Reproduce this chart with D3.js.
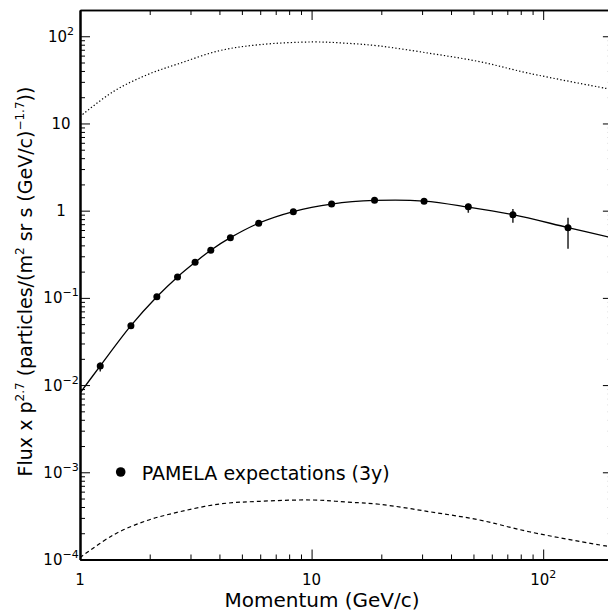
<!DOCTYPE html>
<html>
<head>
  <script src="https://d3js.org/d3.v7.min.js"></script>
  <style>
    body { margin: 0; background: #fff; }
    text { font-family: "DejaVu Sans", sans-serif; fill: #000; }
  </style>
</head>
<body>
  <svg width="608" height="612"></svg>
<script>

// PAMELA expected points (momentum GeV/c, flux x p^2.7)
const pointP    = [1.223, 1.659, 2.147, 2.637, 3.14, 3.67, 4.46, 5.91, 8.34, 12.2, 18.7, 30.6, 47.5, 74.0, 128];
const pointFlux = [0.0166, 0.048, 0.103, 0.174, 0.256, 0.352, 0.49, 0.718, 0.975, 1.19, 1.316, 1.28, 1.11, 0.899, 0.638];
const errLow    = [0.0143, null, null, null, null, null, null, null, null, null, null, null, 0.944, 0.728, 0.367];
const errHigh   = [0.0181, null, null, null, null, null, null, null, null, null, null, null, 1.197, 1.046, 0.831];

// solid curve
const solidP    = [1, 1.223, 1.659, 2.147, 2.637, 3.14, 3.67, 4.46, 5.91, 8.34, 12.2, 18.7, 30.6, 47.5, 74, 128, 200];
const solidFlux = [0.0081, 0.0166, 0.048, 0.103, 0.174, 0.256, 0.352, 0.49, 0.718, 0.975, 1.19, 1.31, 1.29, 1.1, 0.9, 0.64, 0.485];

// dotted curve (top)
const dotP    = [1, 1.392, 1.94, 2.70, 4.01, 5.97, 10.1, 14.1, 19.6, 32.3, 53.0, 87.0, 186, 200];
const dotFlux = [12.0, 23.2, 36.0, 49.0, 68.4, 80.1, 86.0, 83.2, 77.4, 63.8, 51.2, 37.6, 25.3, 24.4];

// dashed curve (bottom)
const dashP    = [1, 1.392, 1.94, 2.70, 4.01, 5.97, 10.1, 14.1, 19.6, 32.3, 53.0, 87.0, 186, 200];
const dashFlux = [1.05e-4, 1.91e-4, 2.79e-4, 3.53e-4, 4.33e-4, 4.65e-4, 4.81e-4, 4.56e-4, 4.30e-4, 3.53e-4, 2.84e-4, 2.08e-4, 1.43e-4, 1.39e-4];

// tick labels
const xTickVals = [1, 10, 100];
const xTickBase = ['1', '10', '10'];
const xTickExp  = ['', '', '2'];
const yTickVals = [1e-4, 1e-3, 1e-2, 1e-1, 1, 10, 100];
const yTickBase = ['10', '10', '10', '10', '1', '10', '10'];
const yTickExp  = ['\u22124', '\u22123', '\u22122', '\u22121', '', '', '2'];

const L = 80, R = 612.9, T = 10, B = 559.5;

let svg = d3.select('svg');

let x = d3.scaleLog().domain([1, 200]).range([L, R]);
let y = d3.scaleLog().domain([1e-4, 200]).range([B, T]);

// minor tick values
let xMinor = [], yMinor = [];
for (let d = 1; d <= 100; d *= 10)
  for (let k = 2; k <= 9; k++) if (d * k <= 200) xMinor.push(d * k);
for (let d = 1e-4; d <= 100; d *= 10)
  for (let k = 2; k <= 9; k++) if (d * k <= 200) yMinor.push(d * k);

svg.append('clipPath').attr('id', 'plot')
  .append('rect').attr('x', L).attr('y', T).attr('width', R - L).attr('height', B - T);

let line = (xs, ys) => d3.line()
  .x((d, i) => x(xs[i]))
  .y((d, i) => y(ys[i]))
  .curve(d3.curveCatmullRom)(xs);

let g = svg.append('g').attr('clip-path', 'url(#plot)');

g.append('path').attr('d', line(dotP, dotFlux))
  .style('fill', 'none').style('stroke', '#000').style('stroke-width', 1.2)
  .style('stroke-dasharray', '1.3,2.2');

g.append('path').attr('d', line(dashP, dashFlux))
  .style('fill', 'none').style('stroke', '#000').style('stroke-width', 1.2)
  .style('stroke-dasharray', '4,3');

g.append('path').attr('d', line(solidP, solidFlux))
  .style('fill', 'none').style('stroke', '#000').style('stroke-width', 1.3);

pointP.forEach((p, i) => {
  if (errLow[i] !== null) {
    g.append('line')
      .attr('x1', x(p)).attr('x2', x(p))
      .attr('y1', y(errLow[i])).attr('y2', y(errHigh[i]))
      .style('stroke', '#222').style('stroke-width', 1.5);
  }
  g.append('circle')
    .attr('cx', x(p)).attr('cy', y(pointFlux[i])).attr('r', 3.5)
    .style('fill', '#000');
});

// axes: major and minor ticks, inward
let axisStyle = (sel, w) => {
  sel.selectAll('.domain').style('stroke', '#000').style('stroke-width', w);
  sel.selectAll('.tick line').style('stroke', '#000').style('stroke-width', 1);
  sel.selectAll('.tick text').remove();
};

svg.append('g').attr('transform', 'translate(0,' + B + ')')
  .call(d3.axisBottom(x).tickValues(xTickVals).tickSize(-10).tickSizeOuter(0)).call(axisStyle, 2);
svg.append('g').attr('transform', 'translate(0,' + B + ')')
  .call(d3.axisBottom(x).tickValues(xMinor).tickSize(-5).tickSizeOuter(0)).call(axisStyle, 2);
svg.append('g').attr('transform', 'translate(0,' + T + ')')
  .call(d3.axisTop(x).tickValues(xTickVals).tickSize(-10).tickSizeOuter(0)).call(axisStyle, 1.6);
svg.append('g').attr('transform', 'translate(0,' + T + ')')
  .call(d3.axisTop(x).tickValues(xMinor).tickSize(-5).tickSizeOuter(0)).call(axisStyle, 1.6);
svg.append('g').attr('transform', 'translate(' + L + ',0)')
  .call(d3.axisLeft(y).tickValues(yTickVals).tickSize(-10).tickSizeOuter(0)).call(axisStyle, 2);
svg.append('g').attr('transform', 'translate(' + L + ',0)')
  .call(d3.axisLeft(y).tickValues(yMinor).tickSize(-5).tickSizeOuter(0)).call(axisStyle, 2);
svg.append('g').attr('transform', 'translate(' + R + ',0)')
  .call(d3.axisRight(y).tickValues(yTickVals).tickSize(-10).tickSizeOuter(0)).call(axisStyle, 1.6);
svg.append('g').attr('transform', 'translate(' + R + ',0)')
  .call(d3.axisRight(y).tickValues(yMinor).tickSize(-5).tickSizeOuter(0)).call(axisStyle, 1.6);

// tick labels with superscripts
xTickVals.forEach((v, i) => {
  let t = svg.append('text')
    .attr('x', x(v)).attr('y', 585)
    .attr('text-anchor', 'middle')
    .style('font-size', '15px')
    .text(xTickBase[i]);
  if (xTickExp[i]) {
    t.append('tspan').attr('dy', -7).style('font-size', '11px').text(xTickExp[i]);
  }
});

yTickVals.forEach((v, i) => {
  let t = svg.append('text')
    .attr('x', 61).attr('y', y(v) + 5.5)
    .attr('text-anchor', 'middle')
    .style('font-size', '15px')
    .text(yTickBase[i]);
  if (yTickExp[i]) {
    t.append('tspan').attr('dy', -7).style('font-size', '11px').text(yTickExp[i]);
  }
});

// axis titles
svg.append('text')
  .attr('x', 322).attr('y', 607)
  .attr('text-anchor', 'middle')
  .style('font-size', '20px')
  .text('Momentum (GeV/c)');

let yt = svg.append('text')
  .attr('transform', 'translate(32,281.5) rotate(-90)')
  .attr('text-anchor', 'middle')
  .style('font-size', '19px');
yt.append('tspan').text('Flux x p');
yt.append('tspan').attr('dy', -8).style('font-size', '12px').text('2.7');
yt.append('tspan').attr('dy', 8).text(' (particles/(m');
yt.append('tspan').attr('dy', -8).style('font-size', '12px').text('2');
yt.append('tspan').attr('dy', 8).text(' sr s (GeV/c)');
yt.append('tspan').attr('dy', -8).style('font-size', '12px').text('\u22121.7');
yt.append('tspan').attr('dy', 8).text('))');

// legend
svg.append('circle').attr('cx', 120.7).attr('cy', 472).attr('r', 4.8).style('fill', '#000');
svg.append('text')
  .attr('x', 141.7).attr('y', 480)
  .style('font-size', '19px')
  .text('PAMELA expectations (3y)');

</script>
</body>
</html>
